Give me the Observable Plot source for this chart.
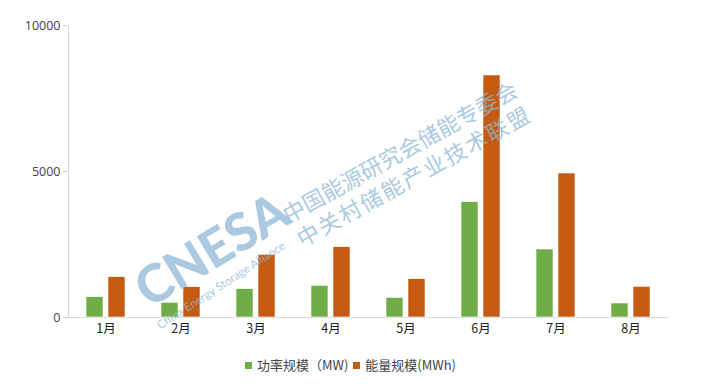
<!DOCTYPE html>
<html><head><meta charset="utf-8">
<script src="https://cdn.jsdelivr.net/npm/d3@7"></script>
<script src="https://cdn.jsdelivr.net/npm/@observablehq/plot@0.6"></script>
<style>
body{margin:0;background:#fff;font-family:"Noto Sans CJK SC","Noto Sans",sans-serif;}
#wrap{position:relative;width:706px;height:390px;overflow:hidden;}
#legend{position:absolute;top:355px;left:0;width:706px;text-align:center;font-size:13px;color:#444;}
#legend span.sw{display:inline-block;width:7px;height:7px;margin:0 5px 1px 0;}
#legend span.it{margin-right:5px;}
.wm{position:absolute;color:#8fb8d6;opacity:0.75;white-space:nowrap;transform-origin:0 100%;pointer-events:none;}
</style></head>
<body><div id="wrap"><div id="chart"></div>
<div id="legend"></div>
</div>
<script>
const months = ["1月","2月","3月","4月","5月","6月","7月","8月"];
const powerMW = [695, 503, 970, 1084, 674, 3950, 2329, 480];
const energyMWh = [1380, 1038, 2146, 2408, 1313, 8288, 4932, 1050];
const seriesNames = ["功率规模（MW)", "能量规模(MWh)"];
const colors = ["#70ad47", "#c55a11"];
const yTicks = [0, 5000, 10000];
const watermark = ["CNESA", "China Energy Storage Alliance", "中国能源研究会储能专委会", "中关村储能产业技术联盟"];

const pData = months.map((m, i) => ({month: m, value: powerMW[i]}));
const eData = months.map((m, i) => ({month: m, value: energyMWh[i]}));

const plot = Plot.plot({
  width: 706, height: 345,
  marginTop: 25, marginBottom: 28, marginLeft: 67, marginRight: 38,
  style: {fontFamily: '"Open Sans","Noto Sans CJK SC",sans-serif', fontSize: "12.5px", color: "#333", background: "transparent"},
  x: {domain: months, padding: 0, label: null, tickSize: 0, tickPadding: 7},
  y: {domain: [0, 10000], ticks: yTicks, tickFormat: d3.format("d"), label: null, tickSize: 4, tickPadding: 3},
  marks: [
    Plot.ruleY([0], {stroke: "#d9d9d9", strokeWidth: 1.2}),
    Plot.ruleX([months[0]], {dx: -37.5, y1: 0, y2: 10000, stroke: "#d9d9d9", strokeWidth: 1.2}),
    Plot.barY(pData, {x: "month", y: "value", fill: colors[0], stroke: "#fff", strokeWidth: 0.6, insetLeft: 18, insetRight: 40}),
    Plot.barY(eData, {x: "month", y: "value", fill: colors[1], stroke: "#fff", strokeWidth: 0.6, insetLeft: 40, insetRight: 18})
  ]
});
d3.select(plot).selectAll("[aria-label='y-axis tick']").attr("stroke", "#d0d0d0");
d3.select(plot).selectAll("[aria-label='x-axis tick label']").attr("fill", "#222").style("font-family", '"Noto Sans CJK SC",sans-serif');
d3.select(plot).selectAll("[aria-label='y-axis tick label']").attr("fill", "#444");
document.getElementById("chart").appendChild(plot);

const lg = document.getElementById("legend");
seriesNames.forEach((n, i) => {
  lg.insertAdjacentHTML("beforeend", `<span class="sw" style="background:${colors[i]}"></span><span class="it">${n}</span>`);
});

const wrap = document.getElementById("wrap");
function wm(text, left, top, size, angle, extra) {
  const d = document.createElement("div");
  d.className = "wm";
  d.textContent = text;
  d.style.left = left + "px"; d.style.top = top + "px";
  d.style.fontSize = size + "px";
  d.style.transform = `rotate(${angle}deg)`;
  Object.assign(d.style, extra || {});
  wrap.appendChild(d);
}
wm(watermark[0], 152, 262, 52, -31, {fontFamily: "Lato, sans-serif", fontWeight: "900", lineHeight: "52px"});
wm(watermark[1], 162, 318, 11.5, -33, {fontFamily: "Lato, sans-serif", lineHeight: "14px"});
wm(watermark[2], 290, 200, 22, -29, {lineHeight: "26px"});
wm(watermark[3], 304, 224, 22, -29, {lineHeight: "26px", letterSpacing: "2px"});
</script></body></html>
